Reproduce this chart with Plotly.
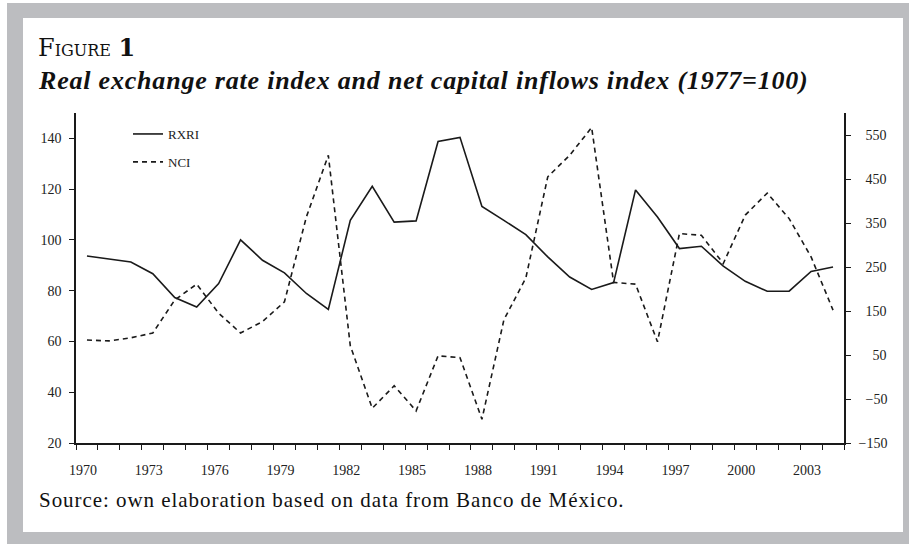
import plotly.graph_objects as go

# ---------------- data ----------------
years = list(range(1970, 2005))
rxri = [93.7, 92.5, 91.3, 86.7, 77.3, 73.6, 82.8, 100.0, 92.0, 87.0,
        78.9, 72.6, 107.7, 121.1, 107.0, 107.5, 138.8, 140.4, 113.2, 107.7,
        102.1, 93.3, 85.4, 80.5, 83.2, 119.7, 109.0, 96.6, 97.5, 89.7,
        83.7, 79.8, 79.8, 87.6, 89.3]
nci = [84, 82, 89, 100, 175, 211, 145, 100, 126, 171,
       364, 504, 71, -71, -20, -77, 48, 44, -96, 130,
       225, 455, 504, 567, 215, 211, 80, 326, 322, 258,
       368, 418, 360, 273, 152]
x_tick_years = list(range(1970, 2004, 3))
left_ticks = [20, 40, 60, 80, 100, 120, 140]
right_ticks = [-150, -50, 50, 150, 250, 350, 450, 550]

title_main = "F<span style='font-size:16px'>IGURE</span> <b>1</b>"
subtitle = ("<b><i><span style='letter-spacing:0.8px'>Real exchange rate index and "
            "net capital inflows index (1977=100)</span></i></b>")
source = ("<span style='letter-spacing:0.95px'>Source: own elaboration based on data "
          "from Banco de México.</span>")

# ---------------- layout geometry ----------------
W, H = 909, 544
ML, MR, MT, MB = 76, 65, 113, 101
PW, PH = W - ML - MR, H - MT - MB

def px(x):
    return (x - ML) / PW

def py(y):
    return (H - MB - y) / PH

FONT = "Liberation Serif"
WIDE = "DejaVu Serif"
INK = "#1a1a1a"

def fmt_right(v):
    s = str(v).replace("-", "\u2212")
    pad = 4 - len(s)
    return "\u2007" * pad + s

fig = go.Figure()
fig.add_trace(go.Scatter(x=years, y=rxri, name="RXRI", mode="lines",
                         line=dict(color=INK, width=1.6), legendgroup="a"))
fig.add_trace(go.Scatter(x=years, y=nci, name="NCI", mode="lines", yaxis="y2",
                         line=dict(color=INK, width=1.6, dash="5px,4px"), legendgroup="b"))

fig.update_layout(
    width=W, height=H,
    margin=dict(l=ML, r=MR, t=MT, b=MB, pad=0),
    paper_bgcolor="white", plot_bgcolor="rgba(0,0,0,0)",
    font=dict(family=FONT, size=14, color="#222"),
    showlegend=True,
    legend=dict(x=px(128), y=py(119), xanchor="left", yanchor="top",
                bgcolor="rgba(0,0,0,0)", font=dict(size=13, family=FONT, color="#222"),
                tracegroupgap=8, traceorder="grouped"),
    xaxis=dict(range=[1969.5, 2004.5], showgrid=False, zeroline=False,
               showline=True, linecolor=INK, linewidth=1.5,
               tickmode="array", tickvals=x_tick_years, ticktext=[str(v) for v in x_tick_years],
               ticks="outside", ticklen=5, tickcolor="rgba(0,0,0,0)",
               ticklabelstandoff=8, ticklabelshift=-4,
               minor=dict(tick0=1969.5, dtick=1, ticks="outside", ticklen=5,
                          tickcolor=INK, tickwidth=1.2, showgrid=False)),
    yaxis=dict(range=[20, 150], showgrid=False, zeroline=False,
               showline=True, linecolor=INK, linewidth=1.5,
               tickmode="array", tickvals=left_ticks,
               ticks="outside", ticklen=5, tickcolor=INK, tickwidth=1.2,
               ticklabelstandoff=5),
    yaxis2=dict(range=[-150, 600], overlaying="y", side="right", showgrid=False,
                zeroline=False, showline=True, linecolor=INK, linewidth=1.5,
                tickmode="array", tickvals=right_ticks,
                ticktext=[fmt_right(v) for v in right_ticks],
                ticks="outside", ticklen=5, tickcolor=INK, tickwidth=1.2,
                ticklabelstandoff=5),
    shapes=[
        dict(type="rect", xref="paper", yref="paper", layer="below",
             x0=px(7), x1=px(915), y0=py(3), y1=py(550),
             fillcolor="#bcbdc0", line=dict(width=0)),
        dict(type="rect", xref="paper", yref="paper", layer="below",
             x0=px(23), x1=px(903), y0=py(18), y1=py(532),
             fillcolor="white", line=dict(width=0)),
    ],
    annotations=[
        dict(text=title_main, xref="paper", yref="paper", x=px(36), y=py(64),
             xanchor="left", yanchor="bottom", showarrow=False,
             font=dict(family=WIDE, size=24, color="#111")),
        dict(text=subtitle, xref="paper", yref="paper", x=px(36), y=py(97),
             xanchor="left", yanchor="bottom", showarrow=False,
             font=dict(family=FONT, size=26, color="#111")),
        dict(text=source, xref="paper", yref="paper", x=px(37), y=py(514),
             xanchor="left", yanchor="bottom", showarrow=False,
             font=dict(family=FONT, size=21, color="#111")),
    ],
)

fig.write_html("out.html", post_script="document.body.style.margin='0';",
               config={"displayModeBar": False})
